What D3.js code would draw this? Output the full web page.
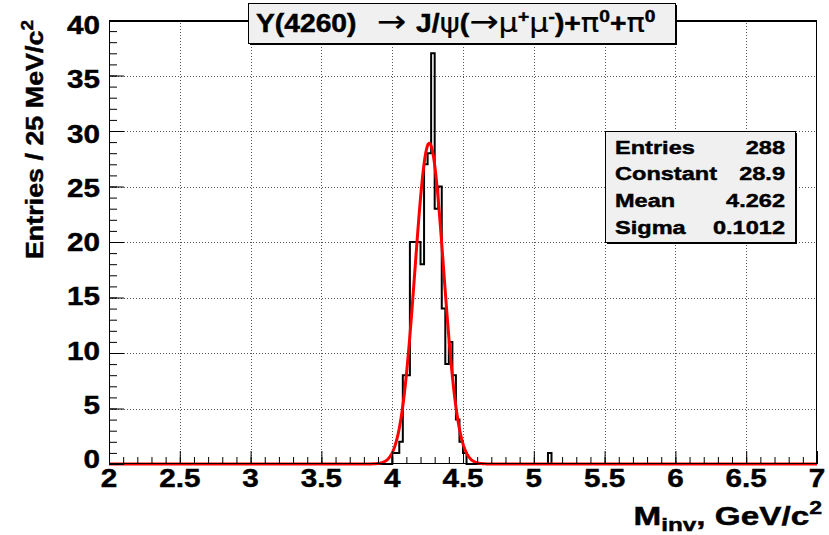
<!DOCTYPE html>
<html>
<head>
<meta charset="utf-8">
<script src="https://cdn.jsdelivr.net/npm/d3@7"></script>
<style>
  html, body { margin: 0; padding: 0; background: #fff; }
  svg { display: block; }
  text { font-family: "Liberation Sans", Arial, Helvetica, sans-serif; font-weight: bold; fill: #000; stroke: #000; stroke-width: 0.45px; }
  .sym { font-family: "DejaVu Sans", sans-serif; font-weight: normal; stroke-width: 0.2px; }
</style>
</head>
<body>
<svg id="chart" width="829" height="535"></svg>
<script>
// Invariant mass of Y(4260) -> J/psi(mu+ mu-) pi0 pi0 candidates, 25 MeV bins, with Gaussian fit
const xDomain = [2, 7];
const yDomain = [0, 40];
const binWidth = 0.025;

// lower edges of the filled bins (GeV/c^2) and their entries
const binLow = [4.000, 4.025, 4.050, 4.075, 4.100, 4.125, 4.150, 4.175, 4.200, 4.225,
                4.250, 4.275, 4.300, 4.325, 4.350, 4.375, 4.400, 4.425, 4.450, 4.475,
                4.500, 5.100];
const binCounts = [1, 1, 2, 8, 8, 20, 20, 20, 18, 27,
                   28, 37, 23, 25, 14, 9, 11, 8, 4, 2,
                   1, 1];

// Gaussian fit parameters
const fitConstant = 28.9;
const fitMean = 4.262;
const fitSigma = 0.1012;

const statLabels = ["Entries", "Constant", "Mean", "Sigma"];
const statValues = ["288", "28.9", "4.262", "0.1012"];

const xMajorTicks = [2, 2.5, 3, 3.5, 4, 4.5, 5, 5.5, 6, 6.5, 7];
const xTickLabels = ["2", "2.5", "3", "3.5", "4", "4.5", "5", "5.5", "6", "6.5", "7"];
const yMajorTicks = [0, 5, 10, 15, 20, 25, 30, 35, 40];
const yTickLabels = ["0", "5", "10", "15", "20", "25", "30", "35", "40"];

const svg = d3.select("#chart");
const W = 829, H = 535;
const frame = { left: 109, right: 817, top: 20, bottom: 464 };

svg.append("rect").attr("width", W).attr("height", H).attr("fill", "#fff");

const x = d3.scaleLinear().domain(xDomain).range([frame.left, frame.right]);
const y = d3.scaleLinear().domain(yDomain).range([frame.bottom, frame.top]);

// text helper: the face is drawn a little wider than it is tall
function label(px, py, str, size, anchor, rot = 0, sx = 1.12) {
  return svg.append("text")
    .attr("transform", `translate(${px},${py}) rotate(${rot}) scale(${sx},1)`)
    .attr("font-size", size)
    .attr("text-anchor", anchor)
    .text(str);
}

// dotted grid
const grid = svg.append("g").attr("stroke", "#555").attr("stroke-width", 1).attr("stroke-dasharray", "1,2");
grid.selectAll("line.gx").data(xMajorTicks.slice(1, -1)).join("line")
  .attr("x1", d => Math.round(x(d)) + 0.5).attr("x2", d => Math.round(x(d)) + 0.5)
  .attr("y1", frame.top).attr("y2", frame.bottom);
grid.selectAll("line.gy").data(yMajorTicks.slice(1, -1)).join("line")
  .attr("y1", d => Math.round(y(d)) + 0.5).attr("y2", d => Math.round(y(d)) + 0.5)
  .attr("x1", frame.left).attr("x2", frame.right);

// histogram outline over the full range
const nBins = Math.round((xDomain[1] - xDomain[0]) / binWidth);
const counts = new Array(nBins).fill(0);
binLow.forEach((lo, i) => { counts[Math.round((lo - xDomain[0]) / binWidth)] = binCounts[i]; });
const steps = [[xDomain[0], 0]];
counts.forEach((c, i) => {
  const lo = xDomain[0] + i * binWidth;
  steps.push([lo, c], [lo + binWidth, c]);
});
steps.push([xDomain[1], 0]);
const line = d3.line().x(d => x(d[0])).y(d => y(d[1]));
svg.append("path").attr("d", line(steps))
  .attr("fill", "none").attr("stroke", "#000").attr("stroke-width", 2);

// fitted Gaussian
const gaus = v => fitConstant * Math.exp(-0.5 * Math.pow((v - fitMean) / fitSigma, 2));
const fitPts = d3.range(xDomain[0], xDomain[1] + 1e-9, 0.004).map(v => [v, gaus(v)]);
svg.append("path").attr("d", line(fitPts))
  .attr("fill", "none").attr("stroke", "#ff0000").attr("stroke-width", 3)
  .attr("stroke-linejoin", "round");

// frame
svg.append("rect")
  .attr("x", frame.left + 0.5).attr("y", frame.top + 0.5)
  .attr("width", frame.right - frame.left - 1).attr("height", frame.bottom - frame.top - 1)
  .attr("fill", "none").attr("stroke", "#000").attr("stroke-width", 1);
svg.append("line").attr("x1", frame.left).attr("x2", frame.right)
  .attr("y1", frame.top + 1).attr("y2", frame.top + 1).attr("stroke", "#000").attr("stroke-width", 2);

// ticks, pointing into the frame
const xMinor = d3.range(0, 51).map(i => xDomain[0] + i * 0.1);
const yMinor = d3.range(0, 41);
const axX = svg.append("g").attr("transform", `translate(0,${frame.bottom})`);
axX.append("g").call(d3.axisBottom(x).tickValues(xMinor).tickSize(-7).tickFormat(""));
axX.append("g").call(d3.axisBottom(x).tickValues(xMajorTicks).tickSize(-13).tickFormat(""));
const axY = svg.append("g").attr("transform", `translate(${frame.left},0)`);
axY.append("g").call(d3.axisLeft(y).tickValues(yMinor).tickSize(-8).tickFormat(""));
axY.append("g").call(d3.axisLeft(y).tickValues(yMajorTicks).tickSize(-15).tickFormat(""));
svg.selectAll(".domain").remove();
svg.selectAll(".tick line").attr("stroke", "#000").attr("stroke-width", 1);

// tick labels
xMajorTicks.forEach((v, i) => label(x(v), 487, xTickLabels[i], 26.5, "middle"));
yMajorTicks.forEach((v, i) => label(100, y(v) + 4 + 10 * v / 40, yTickLabels[i], 26.5, "end"));

// axis titles
const xt = label(822, 525, "", 26, "end", 0, 1.28);
xt.append("tspan").text("M");
xt.append("tspan").attr("font-size", 19).attr("dy", 6).text("inv");
xt.append("tspan").attr("dy", -6).text(", GeV/c");
xt.append("tspan").attr("font-size", 18).attr("dy", -11).text("2");

const yt = label(43, frame.top, "", 24, "end", -90, 1.12);
yt.append("tspan").text("Entries / 25 MeV/c");
yt.append("tspan").attr("font-size", 17).attr("dy", -10).text("2");

// title box
const tb = { x: 248, y: 3, w: 427, h: 40 };
svg.append("rect").attr("x", tb.x + 2).attr("y", tb.y + 2).attr("width", tb.w).attr("height", tb.h).attr("fill", "#000");
svg.append("rect").attr("x", tb.x + 0.5).attr("y", tb.y + 0.5).attr("width", tb.w).attr("height", tb.h)
  .attr("fill", "#f0f0f0").attr("stroke", "#000").attr("stroke-width", 1);
const tt = label(256, 32, "", 25, "start", 0, 1.13);
const part = (t, cls, dy, fs, dx) => {
  const s = tt.append("tspan").text(t);
  if (cls) s.attr("class", cls);
  if (dy) s.attr("dy", dy);
  if (fs) s.attr("font-size", fs);
  if (dx) s.attr("dx", dx);
  return s;
};
part("Y(4260)\u00a0\u00a0");
part("\u2192", "sym", null, 31, 4);
part("\u00a0J/", null, null, null, 2);
part("\u03c8", "sym", null, 27);
part("(");
part("\u2192", "sym", null, 31);
part("\u03bc", "sym", null, 27);
part("+", null, -10, 17);
part("\u03bc", "sym", 10, 27);
part("-", null, -10, 17);
part(")+", null, 10);
part("\u03c0", "sym", null, 27);
part("0", null, -10, 17);
part("+", null, 10);
part("\u03c0", "sym", null, 27);
part("0", null, -10, 17);

// statistics box
const sb = { x: 605, y: 131, w: 190, h: 111 };
svg.append("rect").attr("x", sb.x + 2).attr("y", sb.y + 2).attr("width", sb.w).attr("height", sb.h).attr("fill", "#000");
svg.append("rect").attr("x", sb.x + 0.5).attr("y", sb.y + 0.5).attr("width", sb.w).attr("height", sb.h)
  .attr("fill", "#f0f0f0").attr("stroke", "#000").attr("stroke-width", 1);
const rowY = d3.scaleLinear().domain([0, statLabels.length - 1]).range([153.5, 233.5]);
statLabels.forEach((s, i) => {
  label(615, rowY(i), s, 19, "start", 0, 1.24);
  label(785, rowY(i), statValues[i], 19, "end", 0, 1.24);
});
</script>
</body>
</html>
